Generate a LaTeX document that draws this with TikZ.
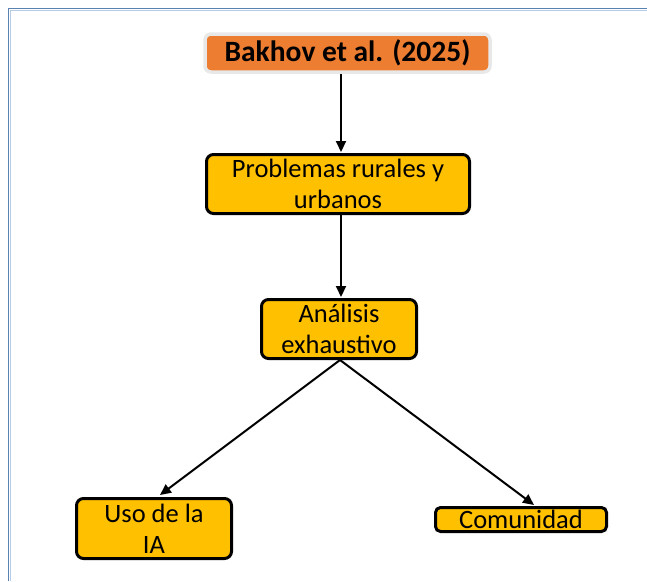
\documentclass[tikz,border=0pt]{standalone}
\usepackage{fontspec}
\setmainfont{Carlito}
\usetikzlibrary{arrows.meta}
\definecolor{orng}{HTML}{ED7D31}
\definecolor{gold}{HTML}{FFC000}
\definecolor{frm}{HTML}{5A82B0}
\definecolor{frml}{HTML}{B4CCE6}
\definecolor{paleedge}{HTML}{E8E8E8}
\begin{document}
\begin{tikzpicture}[x=1pt,y=-1pt,
  box/.style={draw=black, line width=3pt, fill=gold, rounded corners=7pt, inner sep=0pt,
    align=center, font=\fontsize{26.5}{31}\selectfont},
  topbox/.style={draw=paleedge, line width=3.5pt, fill=orng, rounded corners=6pt, inner sep=0pt,
    align=center, font=\fontsize{29.5}{32}\selectfont\bfseries},
  arr/.style={-{Triangle[length=11pt,width=10pt]}, line width=2pt, draw=black}]
\useasboundingbox (0,0) rectangle (647,581);
\fill[white] (0,0) rectangle (647,581);
% frame
\draw[frml, line width=1.2pt] (10.2,581) -- (10.2,10.2) -- (647,10.2);
\draw[frm, line width=1.6pt] (8.6,581) -- (8.6,8.6) -- (647,8.6);
% nodes
\node[topbox, minimum width=285pt, minimum height=38pt] (bak) at (347.5,53) {Bakhov et al. (2025)};
\node[box, minimum width=263pt, minimum height=59pt] (prob) at (338,184) {Problemas rurales y\\urbanos};
\node[box, minimum width=155pt, minimum height=59pt] (ana) at (339,329) {Análisis\\exhaustivo};
\node[box, minimum width=155pt, minimum height=60pt] (uso) at (154,528.5) {Uso de la\\IA};
\node[box, rounded corners=5pt, minimum width=171pt, minimum height=24pt] (com) at (521,519.5) {Comunidad};
% connectors
\draw[arr] ([xshift=-6.5pt]bak.south) -- ([xshift=3pt,yshift=1pt]prob.north);
\draw[arr] ([xshift=3pt]prob.south) -- ([xshift=2pt,yshift=1pt]ana.north);
\draw[arr] ([xshift=1pt]ana.south) -- ([xshift=6pt,yshift=2pt]uso.north);
\draw[arr] ([xshift=1pt]ana.south) -- ([xshift=13pt,yshift=1pt]com.north);
\end{tikzpicture}
\end{document}
